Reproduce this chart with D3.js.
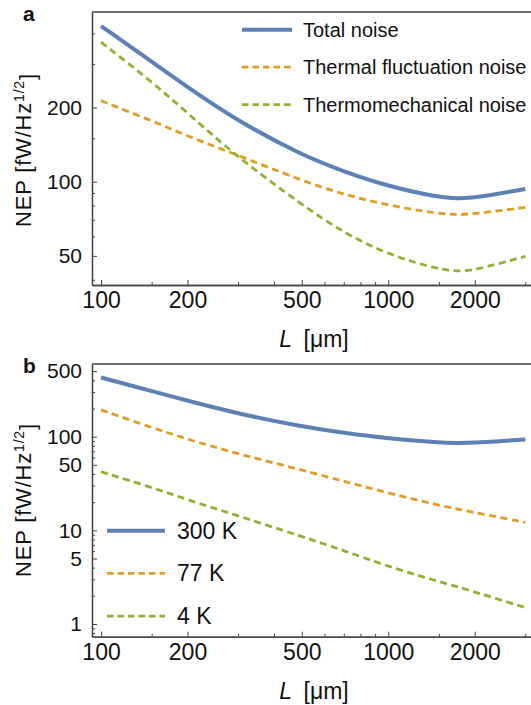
<!DOCTYPE html>
<html>
<head>
<meta charset="utf-8">
<script src="https://cdn.jsdelivr.net/npm/d3@7"></script>
<style>
body { margin: 0; background: #fff; }
text { font-family: "Liberation Sans", Arial, Helvetica, sans-serif; fill: #111; }
</style>
</head>
<body>
<script>
// L in micrometres, NEP in fW/Hz^1/2
var lengths = [100, 150, 200, 300, 500, 700, 1000, 1500, 1750, 2000, 3000];
var totalNoise = [428, 307, 242, 176, 128, 110, 95.7, 86.4, 85.5, 86.0, 93.4];
var thermalFluct = [213, 177, 153, 128, 101, 88.6, 80.2, 74.0, 73.6, 74.0, 78.7];
var thermoMech = [368, 255, 190, 125, 80.7, 61.9, 50.6, 44.0, 43.3, 43.7, 49.8];

var noise300K = [428, 307, 242, 176, 128, 110, 95.7, 86.4, 85.5, 86.0, 93.4];
var noise77K = [193, 125, 94, 65.3, 44.2, 33.4, 25.0, 18.5, 16.9, 15.4, 12.2];
var noise4K = [42.2, 28.8, 21.2, 14.3, 8.6, 6.1, 4.1, 2.84, 2.48, 2.2, 1.5];

var xTicks = [100, 200, 500, 1000, 2000];
var xMinor = [150, 300, 400, 600, 700, 800, 900, 1500, 3000];
var yTicksA = [50, 100, 200];
var yMinorA = [40, 60, 70, 80, 90, 150, 300, 400];
var yTicksB = [1, 5, 10, 50, 100, 500];
var yMinorB = [0.8, 0.9, 2, 3, 4, 6, 7, 8, 9, 20, 30, 40, 60, 70, 80, 90, 200, 300, 400];

var legendA = ["Total noise", "Thermal fluctuation noise", "Thermomechanical noise"];
var legendB = ["300 K", "77 K", "4 K"];
var colors = ["#5e81b5", "#e19c24", "#8fb032"];

var width = 531, height = 705,
    left = 92, right = 531;

var svg = d3.select("body").append("svg")
    .attr("width", width)
    .attr("height", height);

var x = d3.scaleLog().domain([93, 3140]).range([left, right]);

function drawPanel(p) {
    var y = d3.scaleLog().domain(p.yDomain).range([p.bottom, p.top]);
    var g = svg.append("g");

    g.append("clipPath").attr("id", "clip" + p.name)
      .append("rect")
        .attr("x", left).attr("y", p.top)
        .attr("width", right - left).attr("height", p.bottom - p.top);

    // minor ticks first, then major ticks with labels
    g.append("g")
        .attr("transform", "translate(0," + p.bottom + ")")
        .call(d3.axisBottom(x).tickValues(xMinor).tickSize(-3).tickSizeOuter(0).tickFormat(""));
    var xa = g.append("g")
        .attr("transform", "translate(0," + p.bottom + ")")
        .call(d3.axisBottom(x).tickValues(xTicks).tickSize(-5).tickSizeOuter(0)
              .tickPadding(6.5).tickFormat(d3.format("d")));
    g.append("g")
        .attr("transform", "translate(" + left + ",0)")
        .call(d3.axisLeft(y).tickValues(p.yMinor).tickSize(-3).tickSizeOuter(0).tickFormat(""));
    var ya = g.append("g")
        .attr("transform", "translate(" + left + ",0)")
        .call(d3.axisLeft(y).tickValues(p.yTicks).tickSize(-5).tickSizeOuter(0)
              .tickPadding(10).tickFormat(d3.format("d")));

    xa.selectAll(".tick text").style("font-size", "23px").style("fill", "#111");
    ya.selectAll(".tick text").style("font-size", "21px").style("fill", "#111");
    g.selectAll(".tick line").attr("stroke", "#444").attr("stroke-width", 1);
    g.selectAll(".domain").attr("stroke", "#444").attr("stroke-width", 1.3);

    g.append("line")
        .attr("x1", left).attr("x2", right)
        .attr("y1", p.top).attr("y2", p.top)
        .attr("stroke", "#444").attr("stroke-width", 1.3);

    var line = d3.line()
        .x(function(d) { return x(d[0]); })
        .y(function(d) { return y(d[1]); })
        .curve(d3.curveBasis);

    var series = g.append("g").attr("clip-path", "url(#clip" + p.name + ")");
    p.series.forEach(function(s, i) {
        series.append("path")
            .datum(d3.zip(lengths, s))
            .attr("d", line)
            .attr("fill", "none")
            .attr("stroke", colors[i])
            .attr("stroke-width", i == 0 ? 4 : 2.8)
            .attr("stroke-dasharray", i == 0 ? null : "7,4.5");
    });

    // legend
    p.legend.forEach(function(name, i) {
        var ly = p.legendY + i * p.legendStep;
        g.append("line")
            .attr("x1", p.legendX).attr("x2", p.legendX + p.legendLen)
            .attr("y1", ly).attr("y2", ly)
            .attr("stroke", colors[i])
            .attr("stroke-width", i == 0 ? 4 : 2.8)
            .attr("stroke-dasharray", i == 0 ? null : "6.5,4");
        g.append("text")
            .attr("x", p.legendTextX)
            .attr("y", ly)
            .attr("dy", "0.35em")
            .style("font-size", p.legendFont)
            .text(name);
    });

    g.append("text")
        .attr("x", 23).attr("y", p.top + 9)
        .style("font-size", "21px").style("font-weight", "bold")
        .text(p.name);

    var xt = g.append("text")
        .attr("x", 314).attr("y", p.bottom + 62)
        .attr("text-anchor", "middle")
        .style("font-size", "23px");
    xt.append("tspan").style("font-style", "italic").text("L");
    xt.append("tspan").text("\u2002[\u03bcm]");

    var yt = g.append("text")
        .attr("transform", "translate(31," + p.yTitle + ") rotate(-90)")
        .attr("text-anchor", "middle")
        .style("font-size", "22px")
        .style("letter-spacing", "0.8px");
    yt.append("tspan").text("NEP [fW/Hz");
    yt.append("tspan").attr("dy", "-0.5em").style("font-size", "14px").text("1/2");
    yt.append("tspan").attr("dy", "0.5em").text("]");
}

drawPanel({
    name: "a", top: 12, bottom: 285,
    yDomain: [38.1, 488], yTicks: yTicksA, yMinor: yMinorA,
    series: [totalNoise, thermalFluct, thermoMech],
    legend: legendA, legendX: 242, legendLen: 50, legendTextX: 303, legendFont: "20px",
    legendY: 29.7, legendStep: 37.5,
    yTitle: 150
});

drawPanel({
    name: "b", top: 364, bottom: 636.7,
    yDomain: [0.732, 597], yTicks: yTicksB, yMinor: yMinorB,
    series: [noise300K, noise77K, noise4K],
    legend: legendB, legendX: 107, legendLen: 58, legendTextX: 177, legendFont: "23px",
    legendY: 530.7, legendStep: 42.7,
    yTitle: 500
});
</script>
</body>
</html>
